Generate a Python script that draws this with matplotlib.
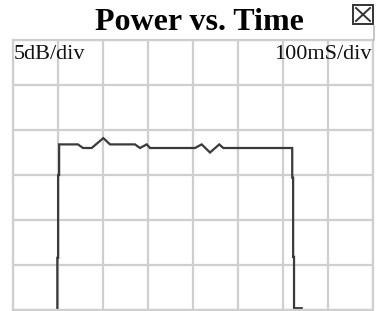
import matplotlib
matplotlib.use("Agg")
import matplotlib.pyplot as plt
from matplotlib.patches import Rectangle
from matplotlib.lines import Line2D

# trace (time in ms, level in dB relative to top line)
time_ms = [98.5, 98.5, 100.3, 100.3, 102.5, 102.5, 144.4, 155.6, 174.9, 200.7,
           215.6, 271.1, 282.2, 297.1, 304.4, 404.4, 419.3, 437.8, 458.4, 467.3,
           620.5, 620.5, 622.5, 622.5, 624.5, 624.5, 641.6]
level_db = [-30.0, -24.2, -24.2, -15.0, -15.0, -11.6, -11.6, -12.0, -12.0, -10.9,
            -11.6, -11.6, -12.0, -11.6, -12.0, -12.0, -11.6, -12.5, -11.6, -12.0,
            -12.0, -15.3, -15.3, -24.1, -24.1, -29.8, -29.8]

x_divs = 8
y_divs = 6
ms_per_div = 100
db_per_div = 5

W, H = 377, 311
fig = plt.figure(figsize=(W / 100, H / 100), dpi=100)
ax = fig.add_axes([13 / W, 1 / H, 360 / W, 270 / H])

ax.plot(time_ms, level_db, color="#3a3a3a", linewidth=1.6, solid_joinstyle="miter")

ax.set_xlim(0, x_divs * ms_per_div)
ax.set_ylim(-y_divs * db_per_div, 0)
ax.set_xticks([i * ms_per_div for i in range(x_divs + 1)])
ax.set_yticks([-i * db_per_div for i in range(y_divs + 1)])
ax.grid(True, color="#cfcfcf", linewidth=1.6)
ax.tick_params(length=0, labelbottom=False, labelleft=False)
for spine in ax.spines.values():
    spine.set_color("#cfcfcf")
    spine.set_linewidth(1.6)

serif = ["Liberation Serif", "DejaVu Serif"]
ax.text(0.003, 0.983, "5dB/div", transform=ax.transAxes, ha="left", va="top",
        fontsize=16, family=serif, color="#111111")
ax.text(0.995, 0.983, "100mS/div", transform=ax.transAxes, ha="right", va="top",
        fontsize=16, family=serif, color="#111111")

fig.text(199 / W, 1 - 23 / H, "Power vs. Time", ha="center", va="center",
         fontsize=23, fontweight="bold", family=serif)

# close box in the top right corner
bx, by, bw, bh = 353 / W, 1 - 24 / H, 20 / W, 19 / H
fig.add_artist(Rectangle((bx, by), bw, bh, transform=fig.transFigure,
                         fill=False, edgecolor="#333333", linewidth=1.4))
pad_x, pad_y = 3 / W, 3 / H
fig.add_artist(Line2D([bx + pad_x, bx + bw - pad_x], [by + pad_y, by + bh - pad_y],
                      transform=fig.transFigure, color="#333333", linewidth=1.4))
fig.add_artist(Line2D([bx + pad_x, bx + bw - pad_x], [by + bh - pad_y, by + pad_y],
                      transform=fig.transFigure, color="#333333", linewidth=1.4))
fig.add_artist(Line2D([374 / W, 374 / W], [1 - 26 / H, 1 - 40 / H],
                      transform=fig.transFigure, color="#bbbbbb", linewidth=1.2))

fig.savefig("out.png", dpi=100)
